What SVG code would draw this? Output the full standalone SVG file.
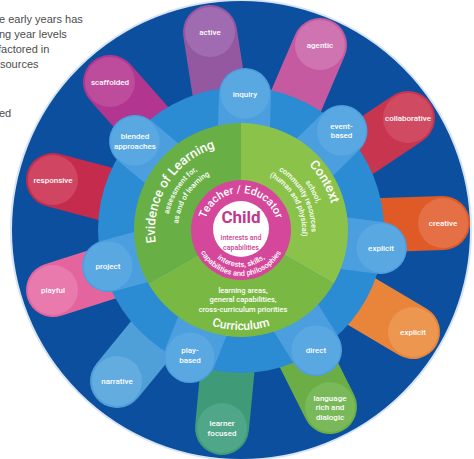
<svg xmlns="http://www.w3.org/2000/svg" width="474" height="459" viewBox="0 0 474 459">
<style>
.intro{font-family:"Liberation Sans",Arial,sans-serif;font-size:11px;fill:#4d4d4d}
.pt{font-family:Roboto,"Open Sans",sans-serif;font-size:8px;font-weight:500;fill:#fff;text-anchor:middle}
.body{stroke-linecap:round;stroke-width:54;fill:none}
.ibody{stroke-linecap:round;stroke-width:52;fill:none;stroke:#4c9fdf}
.icirc{fill:#5aa8e2}
.big{font-family:Roboto,"Open Sans",sans-serif;font-weight:500;fill:#fff;text-anchor:middle}
.sub{font-family:Roboto,"Open Sans",sans-serif;font-weight:500;fill:#fff;text-anchor:middle;font-size:7.5px}
</style>
<defs>
<path id="pEvid" d="M189.24,298.68 A86,86 0 0 1 280.04,153.37"/>
<path id="pEvid1" d="M195.44,288.31 A74,74 0 0 1 275.74,164.67"/>
<path id="pEvid2" d="M202.21,279.64 A63,63 0 0 1 270.58,174.38"/>
<path id="pCtx" d="M201.28,144.81 A94,94 0 0 1 294.92,307"/>
<path id="pCtx1" d="M209.74,156.36 A80,80 0 0 1 284.57,297.1"/>
<path id="pCtx2" d="M213.46,165.1 A70.5,70.5 0 0 1 279.39,289.13"/>
<path id="pCtx3" d="M217.17,173.85 A61,61 0 0 1 274.22,281.16"/>
<path id="pCur" d="M141.38,238.72 A100,100 0 0 0 340.62,238.72"/>
<path id="pTeach" d="M204.14,226.77 A37,37 0 0 1 277.86,226.77"/>
<path id="pInt1" d="M204.14,233.23 A37,37 0 0 0 277.86,233.23"/>
<path id="pInt2" d="M195.18,234.01 A46,46 0 0 0 286.82,234.01"/>
</defs>

<g id="intro-text">
<text class="intro" x="-1" y="22.5">e early years has</text>
<text class="intro" x="-1" y="37.5">ng year levels</text>
<text class="intro" x="-2" y="52.5">factored in</text>
<text class="intro" x="0" y="67.5">sources</text>
<text class="intro" x="-1" y="117">ed</text>
</g>

<g id="outer-disc">
<circle cx="241" cy="230" r="230" fill="#0d4f9f" stroke="#d6e4f3" stroke-width="2"/>
</g>

<g id="outer-pills">
<g id="pill-active"><line class="body" x1="222.4" y1="111.4" x2="210" y2="32" stroke="#93589f"/><circle cx="210" cy="32" r="25" fill="#a06bb0"/><text class="pt" x="210" y="34.8">active</text></g>
<g id="pill-agentic"><line class="body" x1="288.1" y1="119.7" x2="320" y2="45" stroke="#c65aa0"/><circle cx="320" cy="45" r="25" fill="#cf74b1"/><text class="pt" x="320" y="47.8">agentic</text></g>
<g id="pill-collaborative"><line class="body" x1="340.7" y1="163.2" x2="408" y2="118" stroke="#c8354f"/><circle cx="408" cy="118" r="25" fill="#d04a62"/><text class="pt" x="408" y="120.8">collaborative</text></g>
<g id="pill-creative"><line class="body" x1="360.9" y1="225.8" x2="443" y2="223" stroke="#df5a26"/><circle cx="443" cy="223" r="25" fill="#e57045"/><text class="pt" x="443" y="225.8">creative</text></g>
<g id="pill-explicit-outer"><line class="body" x1="344.2" y1="291.2" x2="413" y2="332" stroke="#e8853a"/><circle cx="413" cy="332" r="25" fill="#ec9650"/><text class="pt" x="413" y="334.8">explicit</text></g>
<g id="pill-language"><line class="body" x1="294.9" y1="337.2" x2="330" y2="407" stroke="#6cae45"/><circle cx="330" cy="407" r="25" fill="#7ab95a"/><text class="pt" x="330" y="400.8">language</text><text class="pt" x="330" y="410.3">rich and</text><text class="pt" x="330" y="419.8">dialogic</text></g>
<g id="pill-learner"><line class="body" x1="229.5" y1="349.4" x2="222" y2="428" stroke="#3f9a78"/><circle cx="222" cy="428" r="25" fill="#4fa688"/><text class="pt" x="222" y="425.8">learner</text><text class="pt" x="222" y="435.8">focused</text></g>
<g id="pill-narrative"><line class="body" x1="164.8" y1="322.7" x2="117" y2="381" stroke="#4f9fd8"/><circle cx="117" cy="381" r="25" fill="#62ace0"/><text class="pt" x="117" y="383.8">narrative</text></g>
<g id="pill-playful"><line class="body" x1="126.7" y1="266.5" x2="53" y2="290" stroke="#e4649e"/><circle cx="53" cy="290" r="25" fill="#e97aad"/><text class="pt" x="53" y="292.8">playful</text></g>
<g id="pill-responsive"><line class="body" x1="125" y1="199.1" x2="53" y2="180" stroke="#c42b4d"/><circle cx="53" cy="180" r="25" fill="#cf4562"/><text class="pt" x="53" y="182.8">responsive</text></g>
<g id="pill-scaffolded"><line class="body" x1="161.4" y1="140.1" x2="110" y2="82" stroke="#b2358f"/><circle cx="110" cy="82" r="25" fill="#bd4c9c"/><text class="pt" x="110" y="84.8">scaffolded</text></g>
</g>

<g id="approach-ring">
<circle cx="241" cy="230" r="143" fill="#2b8bd3"/>
</g>

<g id="inner-pills">
<g id="pill-inquiry"><line class="ibody" x1="243.9" y1="130" x2="245" y2="94"/><circle class="icirc" cx="245" cy="94" r="24.5"/><text class="pt" x="245" y="96.8">inquiry</text></g>
<g id="pill-event-based"><line class="ibody" x1="312.2" y1="159.8" x2="341.5" y2="131"/><circle class="icirc" cx="341.5" cy="131" r="24.5"/><text class="pt" x="341.5" y="128.8">event-</text><text class="pt" x="341.5" y="138.3">based</text></g>
<g id="pill-explicit-inner"><line class="ibody" x1="340.2" y1="242.7" x2="381" y2="248"/><circle class="icirc" cx="381" cy="248" r="24.5"/><text class="pt" x="381" y="250.8">explicit</text></g>
<g id="pill-direct"><line class="ibody" x1="294" y1="314.8" x2="316" y2="350"/><circle class="icirc" cx="316" cy="350" r="24.5"/><text class="pt" x="316" y="352.8">direct</text></g>
<g id="pill-play-based"><line class="ibody" x1="203.7" y1="322.8" x2="190" y2="357"/><circle class="icirc" cx="190" cy="357" r="24.5"/><text class="pt" x="190" y="353.3">play-</text><text class="pt" x="190" y="363.3">based</text></g>
<g id="pill-project"><line class="ibody" x1="144.5" y1="256.1" x2="108" y2="266"/><circle class="icirc" cx="108" cy="266" r="24.5"/><text class="pt" x="108" y="268.8">project</text></g>
<g id="pill-blended"><line class="ibody" x1="164.4" y1="165.7" x2="135" y2="141"/><circle class="icirc" cx="135" cy="141" r="24.5"/><text class="pt" x="135" y="138.8">blended</text><text class="pt" x="135" y="148.8">approaches</text></g>
</g>

<g id="sector-evidence">
<path d="M241,230 L148.34,283.5 A107,107 0 0 1 241,123 Z" fill="#68b045"/>
<text class="big" font-size="13"><textPath href="#pEvid" startOffset="50%">Evidence of Learning</textPath></text>
<text class="sub"><textPath href="#pEvid1" startOffset="50%">assessment for,</textPath></text>
<text class="sub"><textPath href="#pEvid2" startOffset="50%">as and of learning</textPath></text>
</g>

<g id="sector-context">
<path d="M241,230 L241,123 A107,107 0 0 1 333.66,283.5 Z" fill="#8bc34a"/>
<text class="big" font-size="13"><textPath href="#pCtx" startOffset="50%">Context</textPath></text>
<text class="sub"><textPath href="#pCtx1" startOffset="50%">school,</textPath></text>
<text class="sub"><textPath href="#pCtx2" startOffset="50%">community resources</textPath></text>
<text class="sub"><textPath href="#pCtx3" startOffset="50%">(human and physical)</textPath></text>
</g>

<g id="sector-curriculum">
<path d="M241,230 L333.66,283.5 A107,107 0 0 1 148.34,283.5 Z" fill="#79b843"/>
<text class="sub" x="243" y="292.5">learning areas,</text>
<text class="sub" x="243" y="302">general capabilities,</text>
<text class="sub" x="243" y="311.5">cross-curriculum priorities</text>
<text class="big" font-size="12"><textPath href="#pCur" startOffset="50%">Curriculum</textPath></text>
</g>

<g id="teacher-educator">
<circle cx="241" cy="230" r="50" fill="#d4479a"/>
<text class="big" font-size="11"><textPath href="#pTeach" startOffset="50%">Teacher / Educator</textPath></text>
<text class="sub"><textPath href="#pInt1" startOffset="50%">interests, skills,</textPath></text>
<text class="sub"><textPath href="#pInt2" startOffset="50%">capabilities and philosophies</textPath></text>
</g>

<g id="child">
<circle cx="241" cy="229" r="28" fill="#ffffff"/>
<text x="241" y="223" font-family="Roboto,'Open Sans',sans-serif" font-size="17" font-weight="700" fill="#c2378a" text-anchor="middle">Child</text>
<text x="241" y="240" font-family="Roboto,'Open Sans',sans-serif" font-size="7" font-weight="500" fill="#cc4593" text-anchor="middle">interests and</text>
<text x="241" y="249.5" font-family="Roboto,'Open Sans',sans-serif" font-size="7" font-weight="500" fill="#cc4593" text-anchor="middle">capabilities</text>
</g>
</svg>
